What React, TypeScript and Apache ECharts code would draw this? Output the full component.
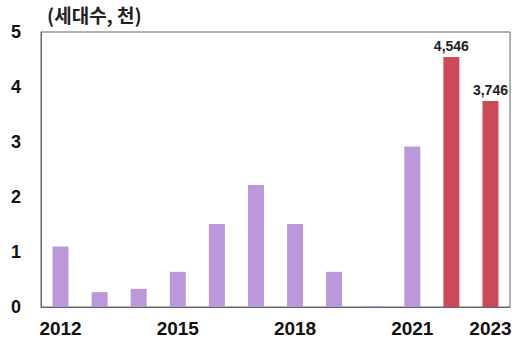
import React, { useEffect, useRef } from "react";
import * as echarts from "echarts";

const categories = ["2012", "2013", "2014", "2015", "2016", "2017", "2018", "2019", "2020", "2021", "2022", "2023"];
const values = [1.1, 0.27, 0.33, 0.64, 1.51, 2.22, 1.51, 0.64, 0.02, 2.92, 4.546, 3.746];
const highlighted = [false, false, false, false, false, false, false, false, false, false, true, true];
const shownLabels = ["2012", "2015", "2018", "2021", "2023"];
const yTicks = [0, 1, 2, 3, 4, 5];
const unitTitle = "(세대수, 천)";

export default function App() {
  const ref = useRef<HTMLDivElement>(null);
  useEffect(() => {
    if (!ref.current) return;
    const chart = echarts.init(ref.current, null, { renderer: "svg" });
    const font = "'Liberation Sans', Arial, 'Noto Sans CJK KR', sans-serif";
    chart.setOption({
      animation: false,
      textStyle: { fontFamily: font },
      title: {
        text: unitTitle,
        left: 42,
        top: 0,
        textStyle: { fontSize: 19, fontWeight: "bold", color: "#222", fontFamily: "'Noto Sans CJK KR', sans-serif" },
      },
      grid: {
        left: 41,
        right: 5,
        top: 32,
        bottom: 36,
        show: true,
        borderColor: "#666",
        borderWidth: 1,
        backgroundColor: "#fff",
      },
      xAxis: {
        type: "category",
        data: categories,
        axisLine: { lineStyle: { color: "#666" } },
        axisTick: { show: false },
        axisLabel: {
          interval: 0,
          formatter: (v: string) => (shownLabels.includes(v) ? v : ""),
          fontSize: 19,
          fontWeight: "bold",
          color: "#111",
          margin: 12,
        },
      },
      yAxis: {
        type: "value",
        min: yTicks[0],
        max: yTicks[yTicks.length - 1],
        interval: 1,
        axisLine: { show: true, lineStyle: { color: "#666" } },
        axisTick: { show: false },
        splitLine: { show: false },
        axisLabel: { fontSize: 18, fontWeight: "bold", color: "#111", margin: 20 },
      },
      series: [
        {
          type: "bar",
          barWidth: 16,
          data: values.map((v, i) => ({
            value: v,
            itemStyle: { color: highlighted[i] ? "#CB4A58" : "#BB98DA" },
            label: highlighted[i]
              ? {
                  show: true,
                  position: "top",
                  distance: 4,
                  formatter: () => Math.round(v * 1000).toLocaleString("en-US"),
                  fontSize: 14,
                  fontWeight: "bold",
                  color: "#222",
                }
              : { show: false },
          })),
        },
      ],
    });
    return () => chart.dispose();
  }, []);
  return <div ref={ref} style={{ width: 515, height: 343, position: "absolute", left: 0, top: 0 }} />;
}
